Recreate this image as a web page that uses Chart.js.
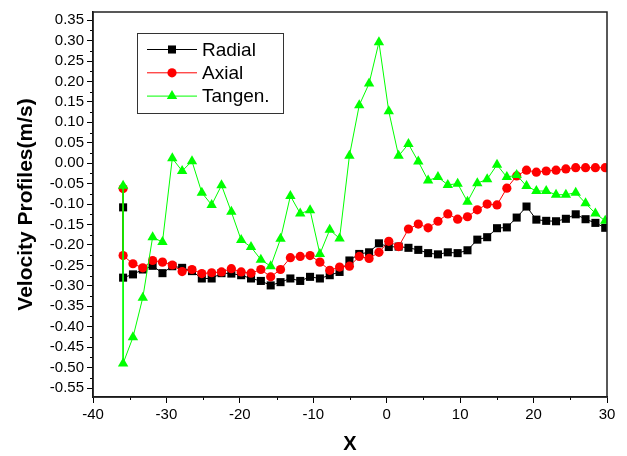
<!DOCTYPE html>
<html>
<head>
<meta charset="utf-8">
<title>Velocity Profiles</title>
<script src="https://cdn.jsdelivr.net/npm/chart.js@4.4.0/dist/chart.umd.min.js"></script>
<style>
    html, body { margin: 0; padding: 0; background: #fff; }
    #wrap { width: 627px; height: 456px; }
</style>
</head>
<body>
<div id="wrap"><canvas id="chart" width="627" height="456"></canvas></div>
<script>
// x positions of the measuring points (first one is measured twice)
const xValues = [-35.9, -35.9, -34.56, -33.22, -31.88, -30.54, -29.2, -27.86, -26.52, -25.18, -23.84,
    -22.5, -21.16, -19.82, -18.48, -17.14, -15.8, -14.46, -13.12, -11.78, -10.44,
    -9.1, -7.76, -6.42, -5.08, -3.74, -2.4, -1.06, 0.28, 1.62, 2.96,
    4.3, 5.64, 6.98, 8.32, 9.66, 11.0, 12.34, 13.68, 15.02, 16.36,
    17.7, 19.04, 20.38, 21.72, 23.06, 24.4, 25.74, 27.08, 28.42, 29.76];

const radial = [-0.108, -0.280, -0.272, -0.260, -0.251, -0.269, -0.252, -0.256, -0.264, -0.282, -0.282,
    -0.269, -0.270, -0.274, -0.282, -0.288, -0.299, -0.291, -0.282, -0.288, -0.278,
    -0.282, -0.274, -0.266, -0.238, -0.222, -0.218, -0.196, -0.205, -0.204, -0.207,
    -0.212, -0.220, -0.223, -0.218, -0.220, -0.213, -0.187, -0.181, -0.159, -0.157,
    -0.133, -0.106, -0.138, -0.141, -0.142, -0.136, -0.125, -0.137, -0.146, -0.158];

const axial = [-0.062, -0.226, -0.246, -0.256, -0.238, -0.242, -0.249, -0.265, -0.260, -0.270, -0.268,
    -0.266, -0.258, -0.266, -0.269, -0.260, -0.278, -0.260, -0.231, -0.228, -0.226,
    -0.242, -0.262, -0.254, -0.252, -0.228, -0.233, -0.218, -0.191, -0.204, -0.161,
    -0.149, -0.158, -0.142, -0.124, -0.137, -0.131, -0.114, -0.100, -0.102, -0.061,
    -0.031, -0.017, -0.022, -0.019, -0.017, -0.014, -0.011, -0.011, -0.011, -0.011];

const tangen = [-0.055, -0.490, -0.426, -0.329, -0.181, -0.193, 0.012, -0.019, 0.005, -0.072, -0.102,
    -0.054, -0.119, -0.188, -0.205, -0.236, -0.252, -0.185, -0.080, -0.123, -0.115,
    -0.222, -0.163, -0.184, 0.018, 0.142, 0.195, 0.296, 0.127, 0.018, 0.047,
    0.004, -0.042, -0.034, -0.053, -0.050, -0.094, -0.049, -0.039, -0.004, -0.034,
    -0.029, -0.056, -0.068, -0.068, -0.077, -0.077, -0.072, -0.098, -0.123, -0.141];

const xTicks = [-40, -30, -20, -10, 0, 10, 20, 30];
const xMinor = [-35, -25, -15, -5, 5, 15, 25];
const yTicks = [0.35, 0.30, 0.25, 0.20, 0.15, 0.10, 0.05, 0.00, -0.05, -0.10, -0.15, -0.20,
    -0.25, -0.30, -0.35, -0.40, -0.45, -0.50, -0.55];
const yMinor = [0.325, 0.275, 0.225, 0.175, 0.125, 0.075, 0.025, -0.025, -0.075, -0.125, -0.175,
    -0.225, -0.275, -0.325, -0.375, -0.425, -0.475, -0.525];

const FONT = "'Liberation Sans', Arial, sans-serif";

function points(values) {
    return xValues.map((x, i) => ({x: x, y: values[i]}));
}

// box around the plot + small ticks between the labelled ones
const framePlugin = {
    id: 'frame',
    afterDraw(chart) {
        const {ctx, chartArea: a, scales} = chart;
        ctx.save();
        ctx.strokeStyle = '#000';
        ctx.lineWidth = 1;
        xMinor.forEach(v => {
            const px = Math.round(scales.x.getPixelForValue(v)) + 0.5;
            ctx.beginPath();
            ctx.moveTo(px, a.bottom);
            ctx.lineTo(px, a.bottom + 3);
            ctx.stroke();
        });
        yMinor.forEach(v => {
            const py = Math.round(scales.y.getPixelForValue(v)) + 0.5;
            ctx.beginPath();
            ctx.moveTo(a.left - 3, py);
            ctx.lineTo(a.left, py);
            ctx.stroke();
        });
        ctx.strokeStyle = '#222';
        ctx.lineWidth = 1.5;
        ctx.strokeRect(a.left, a.top, a.right - a.left, a.bottom - a.top);
        ctx.restore();
    }
};

// legend drawn as a framed box inside the plot
const legendBoxPlugin = {
    id: 'legendBox',
    afterDraw(chart) {
        const ctx = chart.ctx;
        const bx = 137.5, by = 33.5, bw = 146, bh = 80;
        ctx.save();
        ctx.strokeStyle = '#333';
        ctx.lineWidth = 1;
        ctx.strokeRect(bx, by, bw, bh);
        ctx.font = '19px ' + FONT;
        ctx.textBaseline = 'middle';
        ctx.textAlign = 'left';
        chart.data.datasets.forEach((ds, i) => {
            const y = 49.5 + i * 23.3;
            ctx.strokeStyle = ds.borderColor;
            ctx.lineWidth = 1;
            ctx.beginPath();
            ctx.moveTo(147, y);
            ctx.lineTo(197, y);
            ctx.stroke();
            ctx.fillStyle = ds.pointBackgroundColor;
            Chart.helpers.drawPoint(ctx, {
                pointStyle: ds.pointStyle,
                radius: ds.pointRadius,
                rotation: 0,
                borderWidth: 0
            }, 172, y);
            ctx.fillStyle = '#000';
            ctx.fillText(ds.label, 202, y + 1);
        });
        ctx.restore();
    }
};

new Chart(document.getElementById('chart'), {
    type: 'line',
    data: {
        datasets: [{
            label: 'Radial',
            data: points(radial),
            borderColor: '#000000',
            borderWidth: 1,
            pointStyle: 'rect',
            pointRadius: 5.7,
            pointBackgroundColor: '#000000',
            pointBorderWidth: 0,
            order: 3
        }, {
            label: 'Axial',
            data: points(axial),
            borderColor: '#ff0000',
            borderWidth: 1,
            pointStyle: 'circle',
            pointRadius: 4.6,
            pointBackgroundColor: '#ff0000',
            pointBorderWidth: 0,
            order: 2
        }, {
            label: 'Tangen.',
            data: points(tangen),
            borderColor: '#00ff00',
            borderWidth: 1,
            pointStyle: 'triangle',
            pointRadius: 6,
            pointBackgroundColor: '#00ff00',
            pointBorderWidth: 0,
            order: 1
        }]
    },
    options: {
        responsive: false,
        animation: false,
        layout: {padding: {left: 0, right: 20, top: 10, bottom: 0}},
        plugins: {
            legend: {display: false},
            tooltip: {enabled: false}
        },
        elements: {line: {tension: 0}},
        scales: {
            x: {
                type: 'linear',
                min: -40,
                max: 30,
                afterBuildTicks: axis => { axis.ticks = xTicks.map(v => ({value: v})); },
                afterFit: scale => { scale.height = 59; },
                ticks: {
                    font: {family: FONT, size: 15},
                    color: '#000',
                    padding: 3,
                    maxRotation: 0,
                    autoSkip: false
                },
                grid: {drawOnChartArea: false, tickLength: 6, tickColor: '#000', tickWidth: 1},
                border: {color: '#000', width: 1.5},
                title: {
                    display: true,
                    text: 'X',
                    color: '#000',
                    font: {family: FONT, size: 20, weight: 'bold'},
                    padding: {top: 0, bottom: 0}
                }
            },
            y: {
                type: 'linear',
                min: -0.572,
                max: 0.37,
                afterBuildTicks: axis => { axis.ticks = yTicks.map(v => ({value: v})); },
                afterFit: scale => { scale.width = 93; },
                ticks: {
                    font: {family: FONT, size: 15},
                    color: '#000',
                    padding: 3,
                    autoSkip: false,
                    callback: v => Number(v).toFixed(2)
                },
                grid: {drawOnChartArea: false, tickLength: 6, tickColor: '#000', tickWidth: 1},
                border: {color: '#000', width: 1.5},
                title: {
                    display: true,
                    text: 'Velocity Profiles(m/s)',
                    color: '#000',
                    font: {family: FONT, size: 21, weight: 'bold'},
                    padding: {top: 14, bottom: 0}
                }
            }
        }
    },
    plugins: [framePlugin, legendBoxPlugin]
});
</script>
</body>
</html>
